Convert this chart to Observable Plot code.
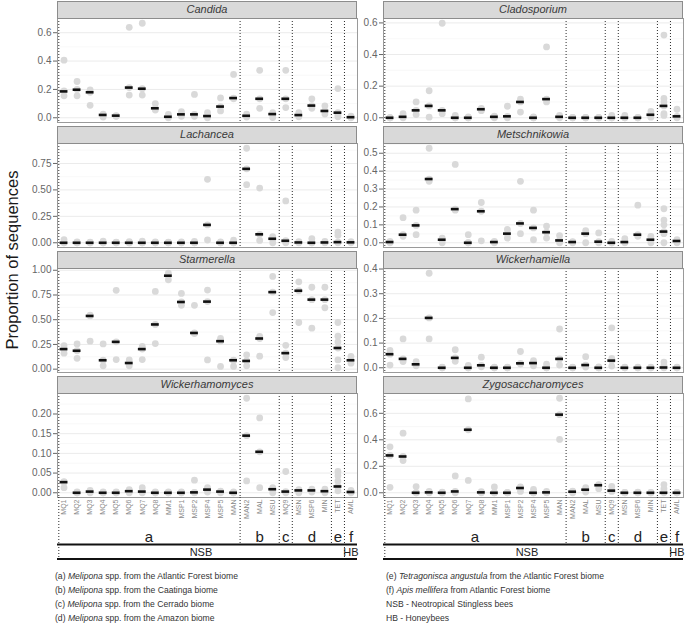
<!DOCTYPE html>
<html>
<head>
<meta charset="utf-8">
<script src="https://cdn.jsdelivr.net/npm/d3@7"></script>
<script src="https://cdn.jsdelivr.net/npm/@observablehq/plot@0.6"></script>
<style>
  html, body { margin: 0; padding: 0; background: #fff; }
  #fig { position: relative; width: 685px; height: 625px; overflow: hidden; background: #fff;
         font-family: "Liberation Sans", Arial, sans-serif; }
  .strip { position: absolute; box-sizing: border-box; background: #d9d9d9; border: 1px solid #8c8c8c;
           font-style: italic; font-size: 11px; color: #3a3a3a; text-align: center; line-height: 15px; }
  .legend { position: absolute; font-size: 8.6px; color: #333; line-height: 12px; white-space: nowrap; }
  .ytitle { position: absolute; width: 300px; height: 20px; line-height: 20px; text-align: center;
            font-size: 16.5px; color: #1a1a1a; transform: rotate(-90deg); transform-origin: 50% 50%; white-space: nowrap; }
</style>
</head>
<body>
<div id="fig"></div>
<script>
// ---------------- DATA ----------------
const categories = ["MQ1","MQ2","MQ3","MQ4","MQ5","MQ6","MQ7","MQ8","MM1","MSP1","MSP2","MSP4","MSP5","MAN",
                    "MAN2","MAL","MSU","MQ9","MSN","MSP6","MIN","TET","AML"];
const groups = ["a","a","a","a","a","a","a","a","a","a","a","a","a","a","b","b","b","c","d","d","d","e","f"];
const beeClass = ["NSB","NSB","NSB","NSB","NSB","NSB","NSB","NSB","NSB","NSB","NSB","NSB","NSB","NSB",
                  "NSB","NSB","NSB","NSB","NSB","NSB","NSB","NSB","HB"];

const candidaMedian = [0.186,0.198,0.18,0.02,0.015,0.213,0.205,0.067,0.007,0.024,0.024,0.012,0.079,0.139,0.014,0.134,0.026,0.134,0.019,0.086,0.048,0.036,0.004];
const candidaPoints = [[0.406,0.19,0.155],[0.256,0.2,0.155],[0.196,0.18,0.088],[0.025,0.02,0.005],[0.015,0.01,0.012],
  [0.638,0.213,0.16],[0.667,0.205,0.16],[0.10,0.067,0.055],[0.024,0.007,0.0],[0.043,0.024,0.01],[0.165,0.024,0.01],
  [0.036,0.012,0.0],[0.14,0.079,0.048],[0.306,0.139,0.134],[0.026,0.014,0.005],[0.335,0.134,0.067],[0.036,0.026,0.002],
  [0.335,0.134,0.072],[0.036,0.019,0.007],[0.134,0.086,0.067],[0.084,0.048,0.026],[0.206,0.036,0.02,0.007],[0.012,0.004,0.0]];
const candidaTicks = [0, 0.2, 0.4, 0.6];

const cladosporiumMedian = [0,0.006,0.047,0.075,0.047,0,0,0.054,0.006,0.009,0.10,0,0.118,0.006,0,0,0,0,0,0,0.019,0.075,0.009];
const cladosporiumPoints = [[0,0,0],[0.026,0.006,0],[0.10,0.047,0.02],[0.171,0.075,0.004],[0.598,0.047,0.026],[0.015,0,0],
  [0.005,0,0],[0.06,0.054,0.045],[0.01,0.006,0],[0.073,0.009,0],[0.118,0.10,0.036],[0.005,0,0],[0.448,0.118,0.10],
  [0.015,0.006,0],[0.003,0,0],[0.003,0,0],[0.003,0,0],[0.015,0,0],[0.015,0,0],[0.003,0,0],[0.04,0.019,0.004],
  [0.523,0.122,0.10,0.075,0.026,0.015],[0.054,0.009,0]];
const cladosporiumTicks = [0, 0.2, 0.4, 0.6];

const lachanceaMedian = [0,0,0,0,0,0,0,0,0,0,0,0.169,0,0,0.699,0.08,0.038,0.019,0.003,0,0.003,0.006,0.004];
const lachanceaPoints = [[0.03,0,0],[0.008,0,0],[0.005,0,0],[0.015,0,0],[0.005,0,0],[0.01,0,0],[0.015,0,0],[0.008,0,0],
  [0.005,0,0],[0.008,0,0],[0.012,0,0],[0.60,0.169,0.026],[0.008,0,0],[0.025,0,0],[0.894,0.699,0.549],[0.517,0.08,0.022],
  [0.057,0.038,0],[0.396,0.019,0],[0.01,0.003,0],[0.04,0,0],[0.012,0.003,0],[0.10,0.07,0.006,0],[0.01,0.004,0]];
const lachanceaTicks = [0, 0.25, 0.5, 0.75];

const metschnikowiaMedian = [0.004,0.045,0.097,0.356,0.017,0.188,0,0.176,0.004,0.051,0.108,0.083,0.059,0.013,0.004,0.051,0.006,0,0.004,0.045,0.017,0.0625,0.01];
const metschnikowiaPoints = [[0.008,0.004,0],[0.14,0.045,0.036],[0.182,0.097,0.045],[0.528,0.356,0.343],[0.026,0.017,0],
  [0.4375,0.188,0.182],[0.045,0,0],[0.225,0.176,0.011],[0.008,0.004,0],[0.074,0.051,0.026],[0.343,0.108,0.051],
  [0.182,0.083,0.017],[0.093,0.059,0.026],[0.040,0.013,0],[0.006,0.004,0],[0.068,0.051,0],[0.055,0.006,0],[0.008,0,0],
  [0.023,0.004,0],[0.21,0.045,0.036],[0.036,0.017,0],[0.19,0.127,0.10,0.0625,0.051,0],[0.017,0.01,0]];
const metschnikowiaTicks = [0, 0.1, 0.2, 0.3, 0.4, 0.5];

const starmerellaMedian = [0.203,0.186,0.538,0.09,0.276,0.062,0.203,0.452,0.945,0.679,0.366,0.683,0.283,0.09,0.083,0.31,0.779,0.162,0.793,0.703,0.703,0.214,0.09];
const starmerellaPoints = [[0.238,0.203,0.162],[0.255,0.186,0.11],[0.545,0.538,0.283],[0.255,0.09,0.034],[0.797,0.276,0.097],
  [0.093,0.062,0.034],[0.231,0.203,0.097],[0.786,0.452,0.259],[0.97,0.945,0.903],[0.766,0.679,0.645],[0.645,0.366,0.36],
  [0.80,0.683,0.093],[0.31,0.283,0.028],[0.09,0.085,0.028],[0.145,0.083,0.034],[0.331,0.31,0.131],[0.938,0.779,0.572],
  [0.241,0.162,0.117],[0.883,0.793,0.472],[0.828,0.703,0.414],[0.828,0.703,0.621],[0.472,0.334,0.276,0.214,0.093,0.014],
  [0.13,0.09,0.06]];
const starmerellaTicks = [0, 0.25, 0.5, 0.75, 1];

const wickerhamiellaMedian = [0.055,0.036,0.014,0.202,0,0.04,0,0.01,0,0,0.018,0.019,0,0.036,0,0.011,0,0.029,0,0,0,0.001,0];
const wickerhamiellaPoints = [[0.07,0.055,0.011],[0.117,0.036,0.025],[0.025,0.014,0.008],[0.383,0.202,0.117],[0.003,0,0],
  [0.073,0.04,0.026],[0.01,0,0],[0.043,0.01,0.004],[0.003,0,0],[0.003,0,0],[0.066,0.018,0.015],[0.029,0.019,0.008],
  [0.015,0,0],[0.157,0.036,0.011],[0.003,0,0],[0.045,0.011,0.003],[0.004,0,0],[0.162,0.038,0.029,0.007],[0.003,0,0],
  [0.003,0,0],[0.003,0,0],[0.023,0.01,0.001,0],[0.003,0,0]];
const wickerhamiellaTicks = [0, 0.1, 0.2, 0.3, 0.4];

const wickerhamomycesMedian = [0.027,0,0.003,0,0,0.004,0.003,0,0,0,0.001,0.008,0.003,0,0.145,0.104,0.009,0.003,0.006,0.006,0.004,0.016,0.002];
const wickerhamomycesPoints = [[0.028,0.027,0.013],[0.002,0,0],[0.006,0.003,0],[0.002,0,0],[0.002,0,0],[0.008,0.004,0],
  [0.013,0.003,0],[0.002,0,0],[0.002,0,0],[0.002,0,0],[0.032,0.001,0],[0.013,0.008,0.002],[0.004,0.003,0],[0.002,0,0],
  [0.24,0.145,0.03],[0.19,0.104,0.013],[0.013,0.009,0],[0.054,0.003,0],[0.008,0.006,0],[0.009,0.006,0.002],[0.009,0.004,0],
  [0.054,0.043,0.03,0.016,0.005],[0.006,0.002,0]];
const wickerhamomycesTicks = [0, 0.05, 0.10, 0.15, 0.20];

const zygosaccharomycesMedian = [0.282,0.274,0,0.003,0,0.01,0.476,0.003,0,0,0.036,0,0.003,0.59,0.008,0.023,0.057,0.016,0,0,0,0,0];
const zygosaccharomycesPoints = [[0.347,0.282,0.041],[0.45,0.274,0.243],[0.047,0,0],[0.01,0.003,0],[0.005,0,0],[0.127,0.01,0],
  [0.709,0.476,0.093],[0.008,0.003,0],[0.044,0,0],[0.003,0,0],[0.044,0.036,0.01],[0.026,0,0],[0.01,0.003,0],[0.714,0.59,0.403],
  [0.012,0.008,0],[0.039,0.023,0.005],[0.062,0.057,0.031],[0.049,0.016,0.01],[0.003,0,0],[0.005,0,0],[0.003,0,0],
  [0.062,0.031,0.01,0],[0.003,0,0]];
const zygosaccharomycesTicks = [0, 0.2, 0.4, 0.6];

const legendLeft = [
  ["(a) ", "Melipona", " spp. from the Atlantic Forest biome"],
  ["(b) ", "Melipona", " spp. from the Caatinga biome"],
  ["(c) ", "Melipona", " spp. from the Cerrado biome"],
  ["(d) ", "Melipona", " spp. from the Amazon biome"]
];
const legendRight = [
  ["(e) ", "Tetragonisca angustula", " from the Atlantic Forest biome"],
  ["(f) ", "Apis mellifera", " from Atlantic Forest biome"],
  ["NSB - Neotropical Stingless bees", "", ""],
  ["HB - Honeybees", "", ""]
];

// ---------------- LAYOUT ----------------
const panels = [
  {name: "Candida", med: candidaMedian, pts: candidaPoints, ticks: candidaTicks, digits: 1},
  {name: "Cladosporium", med: cladosporiumMedian, pts: cladosporiumPoints, ticks: cladosporiumTicks, digits: 1},
  {name: "Lachancea", med: lachanceaMedian, pts: lachanceaPoints, ticks: lachanceaTicks, digits: 2},
  {name: "Metschnikowia", med: metschnikowiaMedian, pts: metschnikowiaPoints, ticks: metschnikowiaTicks, digits: 1},
  {name: "Starmerella", med: starmerellaMedian, pts: starmerellaPoints, ticks: starmerellaTicks, digits: 2},
  {name: "Wickerhamiella", med: wickerhamiellaMedian, pts: wickerhamiellaPoints, ticks: wickerhamiellaTicks, digits: 1},
  {name: "Wickerhamomyces", med: wickerhamomycesMedian, pts: wickerhamomycesPoints, ticks: wickerhamomycesTicks, digits: 2},
  {name: "Zygosaccharomyces", med: zygosaccharomycesMedian, pts: zygosaccharomycesPoints, ticks: zygosaccharomycesTicks, digits: 1}
];

const fig = document.getElementById("fig");
const colLeft = [57, 383];
const PW = 300, PH = 104, ML = 45, MR = 2, PAD = 6;
const rowPitch = 125, stripTop = 1, stripH = 17;
const FONT = "Liberation Sans";
const xDomain = [-0.5, categories.length - 0.5];
const DOTS = "1,2";

// boundaries between groups (dotted lines)
const groupBounds = [-0.4];
for (let i = 1; i < groups.length; i++) if (groups[i] !== groups[i - 1]) groupBounds.push(i - 0.5);
const classBounds = [-0.4];
for (let i = 1; i < beeClass.length; i++) if (beeClass[i] !== beeClass[i - 1]) classBounds.push(i - 0.5);
const groupCenters = Array.from(d3.group(categories.map((c, i) => ({i, g: groups[i]})), d => d.g),
  ([g, v]) => ({g, x: (d3.min(v, d => d.i) + d3.max(v, d => d.i)) / 2}));
const classCenters = Array.from(d3.group(categories.map((c, i) => ({i, c: beeClass[i]})), d => d.c),
  ([c, v]) => ({c, x: (d3.min(v, d => d.i) + d3.max(v, d => d.i)) / 2}));

function place(el, left, top) {
  const w = document.createElement("div");
  w.style.cssText = `position:absolute;left:${left}px;top:${top}px;`;
  w.appendChild(el);
  fig.appendChild(w);
  return w;
}

function panelPlot(p) {
  const dots = p.pts.flatMap((arr, i) => arr.map(v => ({i, v})));
  const meds = p.med.map((v, i) => ({i, v}));
  const all = dots.map(d => d.v).concat(p.med);
  const lo = d3.min(all), hi = d3.max(all), ex = 0.05 * (hi - lo);
  const domain = [lo - ex, hi + ex];
  const step = p.ticks[1] - p.ticks[0];
  const minor = p.ticks.map(t => t + step / 2).filter(t => t <= domain[1]);
  const fmt = d3.format(`.${p.digits}f`);
  return Plot.plot({
    width: ML + PW + MR, height: PH + 2 * PAD,
    marginLeft: ML, marginRight: MR, marginTop: PAD, marginBottom: PAD,
    style: {background: "transparent", overflow: "visible", fontFamily: FONT},
    x: {domain: xDomain, axis: null},
    y: {domain},
    marks: [
      Plot.ruleY(minor, {stroke: "#f3f3f3", strokeWidth: 0.6}),
      Plot.ruleY(p.ticks, {stroke: "#ebebeb", strokeWidth: 1}),
      Plot.ruleX(groupBounds, {stroke: "#2a2a2a", strokeWidth: 1, strokeDasharray: DOTS}),
      Plot.dot(dots, {x: "i", y: "v", r: 3.4, fill: "#d9d9d9"}),
      Plot.ruleY(meds, {y: "v", x1: d => d.i - 0.3, x2: d => d.i + 0.3, stroke: "#111", strokeWidth: 2.6}),
      Plot.frame({stroke: "#9a9a9a"}),
      Plot.axisY(p.ticks, {tickSize: 4, tickPadding: 2, fontSize: 10, color: "#666", tickFormat: fmt, label: null})
    ]
  });
}

panels.forEach((p, k) => {
  const col = k % 2, row = Math.floor(k / 2);
  const top = rowPitch * row + stripTop + stripH;
  place(panelPlot(p), colLeft[col] - ML, top - PAD);
});

// strips on top
panels.forEach((p, k) => {
  const col = k % 2, row = Math.floor(k / 2);
  const s = document.createElement("div");
  s.className = "strip";
  s.style.left = colLeft[col] + "px";
  s.style.top = (rowPitch * row + stripTop) + "px";
  s.style.width = PW + "px";
  s.style.height = (stripH + 1) + "px";
  s.textContent = p.name;
  fig.appendChild(s);
});

// bottom annotation (category labels, groups, bee class)
function annotation() {
  const H = 66;
  return Plot.plot({
    width: ML + PW + MR, height: H,
    marginLeft: ML, marginRight: MR, marginTop: 0, marginBottom: 0,
    style: {background: "transparent", overflow: "visible", fontFamily: FONT},
    x: {domain: xDomain, axis: null},
    y: {domain: [0, H], range: [0, H], axis: null},
    marks: [
      Plot.ruleX(groupBounds, {x: d => d, y1: 0, y2: 47, stroke: "#2a2a2a", strokeWidth: 1, strokeDasharray: DOTS}),
      Plot.ruleX(classBounds, {x: d => d, y1: 47, y2: 61.5, stroke: "#2a2a2a", strokeWidth: 1, strokeDasharray: DOTS}),
      Plot.text(categories, {x: (d, i) => i, y: 2, text: d => d, rotate: -90, textAnchor: "end",
                             fontSize: 7, fill: "#8a8a8a"}),
      Plot.text(groupCenters, {x: "x", y: 40, text: "g", fontSize: 15, fill: "#222"}),
      Plot.ruleY([47], {stroke: "#111", strokeWidth: 2}),
      Plot.text(classCenters, {x: "x", y: 54.5, text: "c", fontSize: 11, fill: "#222"}),
      Plot.ruleY([61.5], {stroke: "#111", strokeWidth: 2})
    ]
  });
}
colLeft.forEach(cl => place(annotation(), cl - ML, 497));

// y-axis title
const yt = document.createElement("div");
yt.className = "ytitle";
yt.textContent = "Proportion of sequences";
yt.style.left = (12 - 150) + "px";
yt.style.top = (260 - 10) + "px";
fig.appendChild(yt);

// legends
const legendTops = [576, 590, 604.3, 618.3];
function addLegend(items, left) {
  items.forEach(([a, it, b], j) => {
    const d = document.createElement("div");
    d.className = "legend";
    d.style.left = left + "px";
    d.style.top = (legendTops[j] - 6) + "px";
    d.appendChild(document.createTextNode(a));
    if (it) { const i = document.createElement("i"); i.textContent = it; d.appendChild(i); }
    if (b) d.appendChild(document.createTextNode(b));
    fig.appendChild(d);
  });
}
addLegend(legendLeft, 55);
addLegend(legendRight, 386);
</script>
</body>
</html>
